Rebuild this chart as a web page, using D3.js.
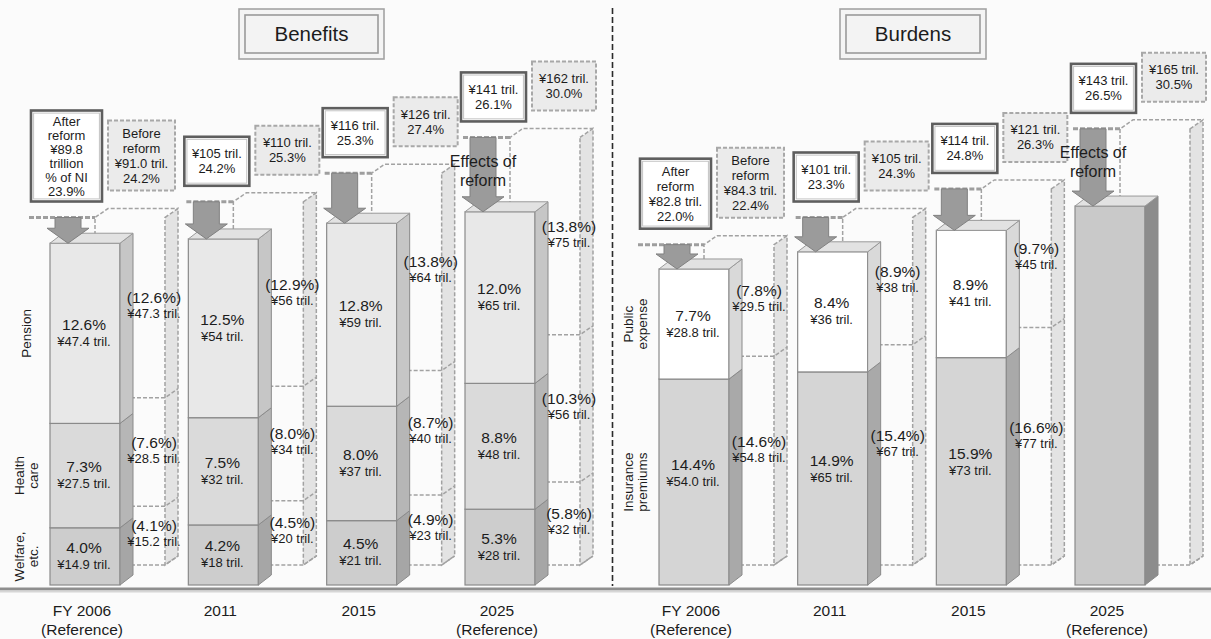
<!DOCTYPE html>
<html>
<head>
<meta charset="utf-8">
<script src="https://cdn.jsdelivr.net/npm/d3@7"></script>
<style>
  html, body { margin: 0; padding: 0; background: #fbfbfb; }
  svg { display: block; font-family: "Liberation Sans", Arial, sans-serif; }
</style>
</head>
<body>
<script>
// ---- Data -------------------------------------------------------------
const categories = ["FY 2006", "2011", "2015", "2025"];
const subLabels = ["(Reference)", "", "", "(Reference)"];
const yenDigits = [1, 0, 0, 0];

// Benefits (% of national income, trillion yen), bottom segment first
const benefitSegments = [["Welfare,", "etc."], ["Health", "care"], ["Pension"]];
const benWelfarePct = [4.0, 4.2, 4.5, 5.3];
const benHealthPct = [7.3, 7.5, 8.0, 8.8];
const benPensionPct = [12.6, 12.5, 12.8, 12.0];
const benWelfareYen = [14.9, 18, 21, 28];
const benHealthYen = [27.5, 32, 37, 48];
const benPensionYen = [47.4, 54, 59, 65];
const benWelfarePctBefore = [4.1, 4.5, 4.9, 5.8];
const benHealthPctBefore = [7.6, 8.0, 8.7, 10.3];
const benPensionPctBefore = [12.6, 12.9, 13.8, 13.8];
const benWelfareYenBefore = [15.2, 20, 23, 32];
const benHealthYenBefore = [28.5, 34, 40, 56];
const benPensionYenBefore = [47.3, 56, 64, 75];
const benTotalYen = [89.8, 105, 116, 141];
const benTotalPct = [23.9, 24.2, 25.3, 26.1];
const benTotalYenBefore = [91.0, 110, 126, 162];
const benTotalPctBefore = [24.2, 25.3, 27.4, 30.0];

// Burdens
const burdenSegments = [["Insurance", "premiums"], ["Public", "expense"]];
const burInsurancePct = [14.4, 14.9, 15.9, null];
const burPublicPct = [7.7, 8.4, 8.9, null];
const burInsuranceYen = [54.0, 65, 73, null];
const burPublicYen = [28.8, 36, 41, null];
const burInsurancePctBefore = [14.6, 15.4, 16.6, null];
const burPublicPctBefore = [7.8, 8.9, 9.7, null];
const burInsuranceYenBefore = [54.8, 67, 77, null];
const burPublicYenBefore = [29.5, 38, 45, null];
const burTotalYen = [82.8, 101, 114, 143];
const burTotalPct = [22.0, 23.3, 24.8, 26.5];
const burTotalYenBefore = [84.3, 105, 121, 165];
const burTotalPctBefore = [22.4, 24.3, 26.3, 30.5];

// ---- Layout -----------------------------------------------------------
const W = 1211, H = 639;
const BW = 70, DX = 13, DY = 10, GDX = 13, GDY = 9, GOFF = 45;
const PXPCT = 14.3;
const y = d3.scaleLinear().domain([0, 30]).range([585, 585 - 30 * PXPCT]);   // reformed bars
const yG = d3.scaleLinear().domain([0, 30]).range([565, 565 - 30 * PXPCT]);  // pre-reform outlines
const INK = "#1c1c1c";
const FONT = "'Liberation Sans', Arial, sans-serif";

const svg = d3.select("body").append("svg").attr("width", W).attr("height", H);
svg.append("rect").attr("width", W).attr("height", H).attr("fill", "#fbfbfb");

const yen = (v, i) => "¥" + v.toFixed(yenDigits[i]) + " tril.";
const pct = v => v.toFixed(1) + "%";

function text(g, x, yy, str, size, extra) {
  const t = g.append("text").attr("x", x).attr("y", yy)
    .attr("text-anchor", "middle").attr("dominant-baseline", "central")
    .attr("font-size", size).attr("fill", INK).text(str);
  if (extra) extra(t);
  return t;
}

function stackOf(vals) {
  let c = 0;
  return vals.map((v, k) => { const s = { k, v, y0: c, y1: c + v }; c += v; return s; });
}

const panels = [
  {
    x: d3.scalePoint().domain(categories).range([50, 465]),
    title: "Benefits", titleX: 239, titleW: 145,
    segNames: benefitSegments,
    after: [benWelfarePct, benHealthPct, benPensionPct],
    afterYen: [benWelfareYen, benHealthYen, benPensionYen],
    before: [benWelfarePctBefore, benHealthPctBefore, benPensionPctBefore],
    beforeYen: [benWelfareYenBefore, benHealthYenBefore, benPensionYenBefore],
    totalYen: benTotalYen, totalPct: benTotalPct,
    totalYenBefore: benTotalYenBefore, totalPctBefore: benTotalPctBefore,
    firstAfter: ["After", "reform", "¥" + benTotalYen[0].toFixed(1), "trillion", "% of NI", pct(benTotalPct[0])],
    firstBefore: ["Before", "reform", yen(benTotalYenBefore[0], 0), pct(benTotalPctBefore[0])],
    front: ["#cdcdcd", "#dadada", "#e8e8e8"],
    side: ["#a6a6a6", "#b6b6b6", "#c6c6c6"],
    labelShift: [0, 0, 0],
    ghostLabelX: 104
  },
  {
    x: d3.scalePoint().domain(categories).range([659, 1075]),
    title: "Burdens", titleX: 840, titleW: 146,
    segNames: burdenSegments,
    after: [burInsurancePct, burPublicPct],
    afterYen: [burInsuranceYen, burPublicYen],
    before: [burInsurancePctBefore, burPublicPctBefore],
    beforeYen: [burInsuranceYenBefore, burPublicYenBefore],
    totalYen: burTotalYen, totalPct: burTotalPct,
    totalYenBefore: burTotalYenBefore, totalPctBefore: burTotalPctBefore,
    firstAfter: ["After", "reform", yen(burTotalYen[0], 0), pct(burTotalPct[0])],
    firstBefore: ["Before", "reform", yen(burTotalYenBefore[0], 0), pct(burTotalPctBefore[0])],
    front: ["#d5d5d5", "#ffffff"],
    side: ["#a9a9a9", "#d9d9d9"],
    labelShift: [-9, 0],
    ghostLabelX: 100
  }
];

// ---- Axis baseline and divider ---------------------------------------
svg.append("rect").attr("x", 0).attr("y", 587.5).attr("width", W).attr("height", 3).attr("fill", "#8e8e8e");
svg.append("rect").attr("x", 0).attr("y", 590.5).attr("width", W).attr("height", 2).attr("fill", "#d6d6d6");
svg.append("line").attr("x1", 612.5).attr("x2", 612.5).attr("y1", 8).attr("y2", 586)
  .attr("stroke", "#2a2a2a").attr("stroke-width", 1.6).attr("stroke-dasharray", "6,3");

function drawBox(g, x0, yBottom, w, lines, kind) {
  const n = lines.length;
  const h = 10.5 * n + 28;
  const y0 = yBottom - h;
  if (kind === "after") {
    g.append("rect").attr("x", x0).attr("y", y0).attr("width", w).attr("height", h)
      .attr("fill", "#ffffff").attr("stroke", "#5e5e5e").attr("stroke-width", 2.6);
    g.append("rect").attr("x", x0 + 2.6).attr("y", y0 + 2.6).attr("width", w - 5.2).attr("height", h - 5.2)
      .attr("fill", "none").attr("stroke", "#c4c4c4").attr("stroke-width", 1);
  } else {
    g.append("rect").attr("x", x0).attr("y", y0).attr("width", w).attr("height", h)
      .attr("fill", "#ebebeb").attr("stroke", "#a8a8a8").attr("stroke-width", 2)
      .attr("stroke-dasharray", "4,2");
  }
  const sp = n > 4 ? 14 : 15;
  const cy = y0 + h / 2;
  lines.forEach((s, j) => text(g, x0 + w / 2, cy + (j - (n - 1) / 2) * sp, s, 13));
  return { x0, y0, w, h };
}

function drawPanel(p) {
  const g = svg.append("g");

  // Title box
  const tb = g.append("g");
  tb.append("rect").attr("x", p.titleX).attr("y", 9).attr("width", p.titleW).attr("height", 50)
    .attr("fill", "#f4f4f4").attr("stroke", "#a3a3a3").attr("stroke-width", 1.6);
  tb.append("rect").attr("x", p.titleX + 6).attr("y", 15).attr("width", p.titleW - 12).attr("height", 38)
    .attr("fill", "#f3f3f3").attr("stroke", "#9a9a9a").attr("stroke-width", 1.6);
  text(tb, p.titleX + p.titleW / 2, 33, p.title, 20.5);

  categories.forEach((c, i) => {
    const L = p.x(c), R = L + BW;

    const aVals = p.after.map(a => a[i]);
    const aSeg = aVals.every(v => v != null);
    const aStack = stackOf(aSeg ? aVals : [p.totalPct[i]]);
    const aTop = y(aStack[aStack.length - 1].y1);

    const bVals = p.before.map(a => a[i]);
    const bSeg = bVals.every(v => v != null);
    const bStack = stackOf(bSeg ? bVals : [p.totalPctBefore[i]]);
    const gTop = yG(bStack[bStack.length - 1].y1);
    const gL = L + GOFF, gR = gL + BW, gBot = yG(0);

    // Pre-reform outline (dashed box behind)
    const dashed = sel => sel.attr("fill", "none").attr("stroke", "#a2a2a2")
      .attr("stroke-width", 1.5).attr("stroke-dasharray", "4,2");
    g.append("path")
      .attr("d", `M${gR},${gTop}L${gR + GDX},${gTop - GDY}L${gR + GDX},${gBot - GDY}L${gR},${gBot}Z`)
      .call(dashed).attr("fill", "#e3e3e3");
    g.append("path")
      .attr("d", `M${gL},${gBot}L${gL},${gTop}L${gL + GDX},${gTop - GDY}L${gR + GDX},${gTop - GDY}`)
      .call(dashed);
    bStack.forEach(s => {
      const yy = yG(s.y0);
      g.append("path").attr("d", `M${gL},${yy}L${gR},${yy}L${gR + GDX},${yy - GDY}`).call(dashed);
    });
    // Pre-reform level marker
    const refStart = i === 0 ? L - 21 : L - 2;
    g.append("line").attr("x1", refStart).attr("x2", gL).attr("y1", gTop).attr("y2", gTop)
      .attr("stroke", "#9e9e9e").attr("stroke-width", 3).attr("stroke-dasharray", "5,2");

    // Reformed bar: front, side and top faces
    aStack.forEach(s => {
      const fill = aSeg ? p.front[s.k] : "#c9c9c9";
      const sfill = aSeg ? p.side[s.k] : "#8c8c8c";
      g.append("rect").attr("x", L).attr("y", y(s.y1)).attr("width", BW).attr("height", y(s.y0) - y(s.y1))
        .attr("fill", fill).attr("stroke", "#8a8a8a").attr("stroke-width", 1.2);
      g.append("path")
        .attr("d", `M${R},${y(s.y1)}L${R + DX},${y(s.y1) - DY}L${R + DX},${y(s.y0) - DY}L${R},${y(s.y0)}Z`)
        .attr("fill", sfill).attr("stroke", "#8a8a8a").attr("stroke-width", 1);
    });
    g.append("path")
      .attr("d", `M${L},${aTop}L${L + DX},${aTop - DY}L${R + DX},${aTop - DY}L${R},${aTop}Z`)
      .attr("fill", "#e2e2e2").attr("stroke", "#9a9a9a").attr("stroke-width", 1);

    // Segment labels on the reformed bar
    if (aSeg) {
      aStack.forEach(s => {
        const mid = (y(s.y0) + y(s.y1)) / 2 + p.labelShift[s.k];
        text(g, L + 34, mid - 9, pct(s.v), 15.5);
        text(g, L + 34, mid + 8, yen(p.afterYen[s.k][i], i), 13);
      });
    }

    // Segment labels for the pre-reform outline
    if (bSeg) {
      bStack.forEach(s => {
        const mid = (yG(s.y0) + yG(s.y1)) / 2 + p.labelShift[s.k];
        text(g, L + p.ghostLabelX, mid - 10, "(" + pct(s.v) + ")", 15.5);
        text(g, L + p.ghostLabelX, mid + 6, yen(p.beforeYen[s.k][i], i), 13);
      });
    }

    // Reform arrow
    const cx = L + 18, hw = 13, aw = 21, ah = 15;
    g.append("path")
      .attr("d", `M${cx - hw},${gTop}L${cx + hw},${gTop}L${cx + hw},${aTop - ah}L${cx + aw},${aTop - ah}` +
        `L${cx},${aTop}L${cx - aw},${aTop - ah}L${cx - hw},${aTop - ah}Z`)
      .attr("fill", "#9b9b9b").attr("stroke", "#808080").attr("stroke-width", 1);

    if (i === categories.length - 1) {
      text(g, cx, gTop + 24, "Effects of", 16);
      text(g, cx, gTop + 43, "reform", 16);
    }

    // Total boxes
    const aLines = i === 0 ? p.firstAfter : [yen(p.totalYen[i], i), pct(p.totalPct[i])];
    const bLines = i === 0 ? p.firstBefore : [yen(p.totalYenBefore[i], i), pct(p.totalPctBefore[i])];
    const aw0 = i === 0 ? 71 : 65;
    const ab = drawBox(g, i === 0 ? L - 19 : L - 4, gTop - 16, aw0, aLines, "after");
    drawBox(g, ab.x0 + ab.w + 6, gTop - 27, i === 0 ? 67 : 64, bLines, "before");

    // Category labels
    text(g, L + 32, 610, c, 15.5);
    if (subLabels[i]) text(g, L + 32, 629, subLabels[i], 15.5);

    // Segment names beside the first bar
    if (i === 0) {
      aStack.forEach(s => {
        const mid = (y(s.y0) + y(s.y1)) / 2;
        const lines = p.segNames[s.k];
        const t = g.append("text").attr("transform", `translate(${L - 24},${mid}) rotate(-90)`)
          .attr("text-anchor", "middle").attr("font-size", 13.5).attr("fill", INK);
        lines.forEach((ln, j) => {
          t.append("tspan").attr("x", 0).attr("y", (j - (lines.length - 1) / 2) * 14)
            .attr("dominant-baseline", "central").text(ln);
        });
      });
    }
  });
}

panels.forEach(drawPanel);
</script>
</body>
</html>
